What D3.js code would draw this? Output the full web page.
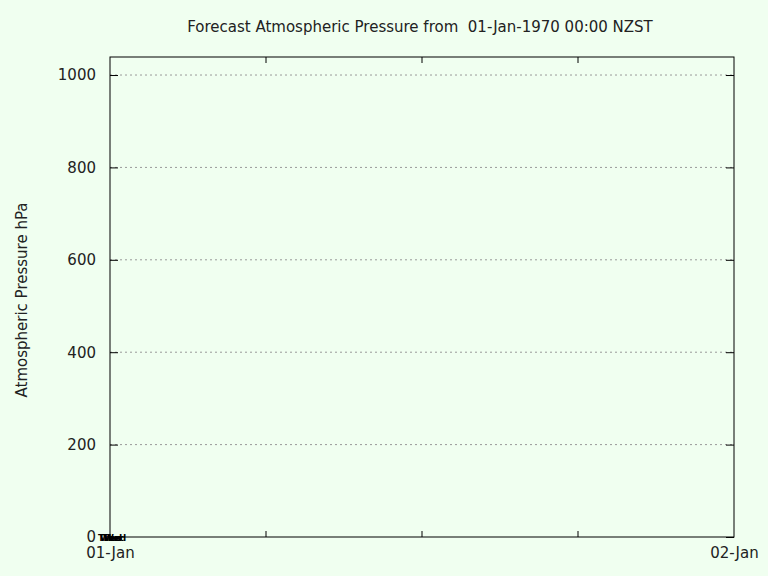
<!DOCTYPE html><html><head><script src="https://d3js.org/d3.v7.min.js"></script>
<style>body{margin:0;background:#f0fff0}</style></head><body><script>
const yTicks=[0,200,400,600,800,1000];
const xLabels=["01-Jan","02-Jan"];
const xMinor=[6,12,18];
const dayLabels=["Thu","Wed","Thu","Wed"];
const title="Forecast Atmospheric Pressure from  01-Jan-1970 00:00 NZST";
const yTitle="Atmospheric Pressure hPa";
const W=768,H=576,L=110,R=734,T=57,B=537;
const svg=d3.select("body").append("svg").attr("width",W).attr("height",H).style("font-family","DejaVu Sans").style("font-size","15px");
svg.append("rect").attr("width",W).attr("height",H).attr("fill","#f0fff0");
const y=d3.scaleLinear().domain([0,1039]).range([B,T]);
const x=d3.scaleLinear().domain([0,24]).range([L,R]);
yTicks.filter(d=>d>0).forEach(d=>svg.append("line").attr("x1",L).attr("x2",R).attr("y1",y(d)).attr("y2",y(d)).attr("stroke","#999").attr("stroke-dasharray","2,3"));
const ya=svg.append("g").attr("transform",`translate(${L},0)`).call(d3.axisLeft(y).tickValues(yTicks).tickSize(-8).tickPadding(14).tickFormat(d3.format("d")));
ya.select(".domain").remove();ya.selectAll("text").style("font-size","15px").attr("fill","#222").style("font-family","DejaVu Sans");
const yr=svg.append("g").attr("transform",`translate(${R},0)`).call(d3.axisRight(y).tickValues(yTicks).tickSize(-8).tickFormat(""));yr.select(".domain").remove();
const xa=svg.append("g").attr("transform",`translate(0,${B})`).call(d3.axisBottom(x).tickValues([0,24]).tickSize(0).tickPadding(10).tickFormat((d,i)=>xLabels[i]));
xa.select(".domain").remove();xa.selectAll("text").style("font-size","15px").attr("fill","#222").style("font-family","DejaVu Sans");
xMinor.forEach(d=>{svg.append("line").attr("x1",x(d)).attr("x2",x(d)).attr("y1",B).attr("y2",B-6).attr("stroke","#000");svg.append("line").attr("x1",x(d)).attr("x2",x(d)).attr("y1",T).attr("y2",T+6).attr("stroke","#000");});
svg.append("rect").attr("x",L).attr("y",T).attr("width",R-L).attr("height",B-T).attr("fill","none").attr("stroke","#000");
dayLabels.forEach((d,i)=>svg.append("text").attr("x",x(0)-12+i*2).attr("y",B+4).attr("font-size","9px").attr("font-weight","bold").text(d));
svg.append("text").attr("x",420).attr("y",32).attr("text-anchor","middle").attr("fill","#222").style("white-space","pre").text(title);
svg.append("text").attr("transform",`translate(27,${300}) rotate(-90)`).attr("text-anchor","middle").attr("fill","#222").text(yTitle);
</script></body></html>
